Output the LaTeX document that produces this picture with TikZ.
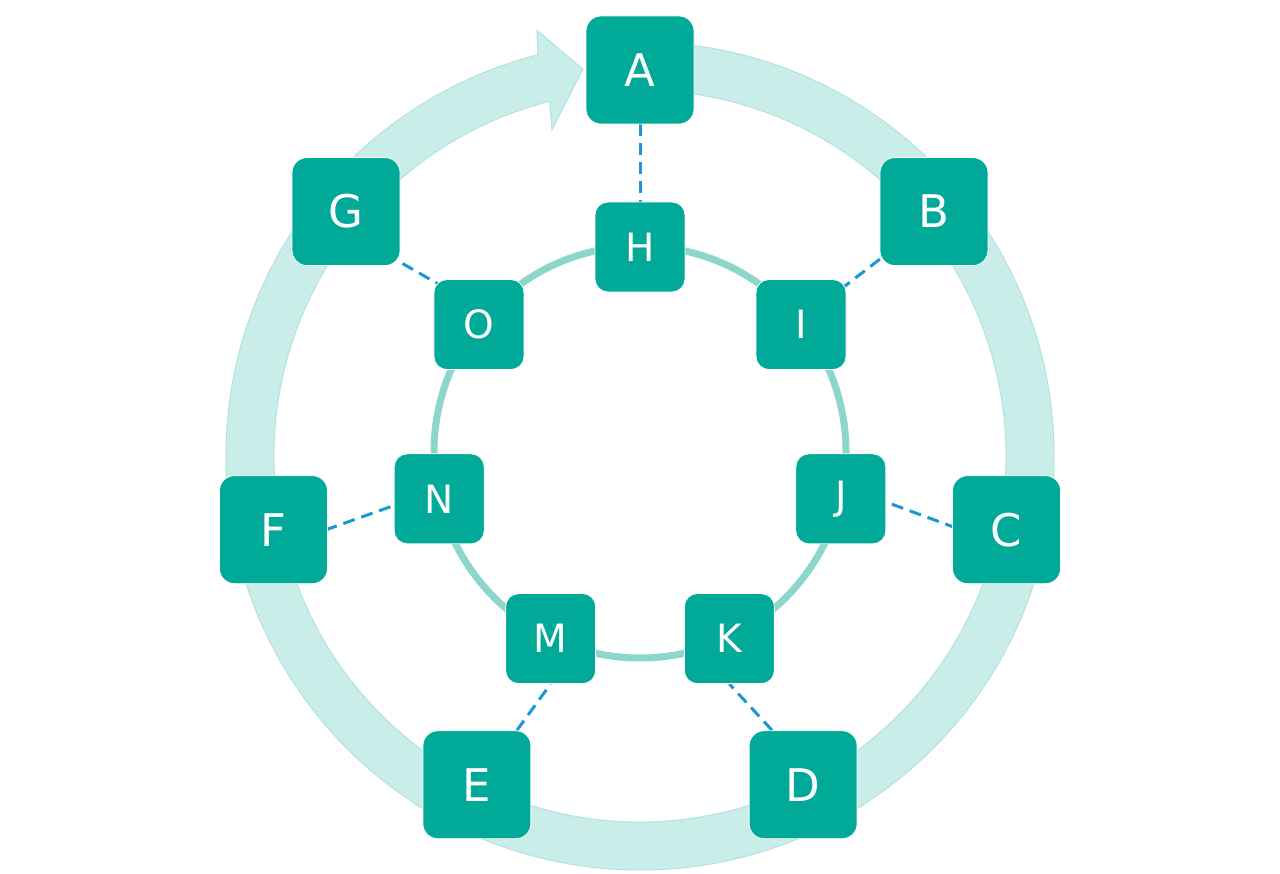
\documentclass[tikz,border=0pt]{standalone}
\usepackage{fontspec}
\setmainfont{DejaVu Sans}
\usetikzlibrary{calc,backgrounds}
\definecolor{nodeteal}{RGB}{0,169,152}
\definecolor{ringfill}{RGB}{201,237,232}
\definecolor{ringedge}{RGB}{180,226,220}
\definecolor{innerring}{RGB}{141,214,204}
\definecolor{linkblue}{RGB}{27,150,214}
\begin{document}
\begin{tikzpicture}[x=1pt,y=1pt,
  bigbox/.style={fill=nodeteal, draw=white, line width=0.8pt, rounded corners=15pt,
    minimum width=108pt, minimum height=108pt, inner sep=0pt, text=white,
    font=\fontsize{45}{50}\selectfont},
  smallbox/.style={fill=nodeteal, draw=white, line width=0.8pt, rounded corners=13pt,
    minimum width=90pt, minimum height=90pt, inner sep=0pt, text=white,
    font=\fontsize{39}{44}\selectfont},
  link/.style={draw=linkblue, line width=3pt, dash pattern=on 12pt off 7pt},
  cyclering/.style={fill=ringfill, draw=ringedge, line width=1pt},
  innerloop/.style={draw=innerring, line width=7pt}]
\useasboundingbox (0,0) rectangle (1280,873);
% outer nodes
\foreach \n [count=\i from 0] in {A,B,C,D,E,F,G}
  \node[bigbox] (\n) at ($(640,427)+({90-\i*360/7}:376)$) {\n};
% inner nodes
\foreach \n [count=\i from 0] in {H,I,J,K,M,N,O}
  \node[smallbox] (\n) at ($(640,420)+({90-\i*360/7}:206)$) {\n};
\begin{pgfonlayer}{background}
  \fill[white] (0,0) rectangle (1280,873);
  \begin{scope}[shift={(640,417)}]
    \filldraw[cyclering] (104.3:366) arc[start angle=104.3, end angle=446, radius=366]
      -- (446:414) arc[start angle=446, end angle=104.3, radius=414]
      -- (103.6:438) -- (98.4:391) -- (105.1:338) -- cycle;
  \end{scope}
  \draw[innerloop] (640,421) circle[radius=206];
  \draw[link] (A.south) -- (H.north);
  \draw[link] ($(B.center)+(-39,-36)$) -- ($(I.center)+(34,31)$);
  \draw[link] ($(C.center)+(-50,1.5)$) -- ($(J.center)+(42,-2)$);
  \draw[link] ($(D.north)+(-31,0)$) -- (K.south);
  \draw[link] ($(E.north)+(40,0)$) -- (M.south);
  \draw[link] ($(F.center)+(52,-0.3)$) -- ($(N.center)+(-42,-5.5)$);
  \draw[link] ($(G.center)+(40,-42.5)$) -- ($(O.center)+(-28,33.3)$);
\end{pgfonlayer}
\end{tikzpicture}
\end{document}
